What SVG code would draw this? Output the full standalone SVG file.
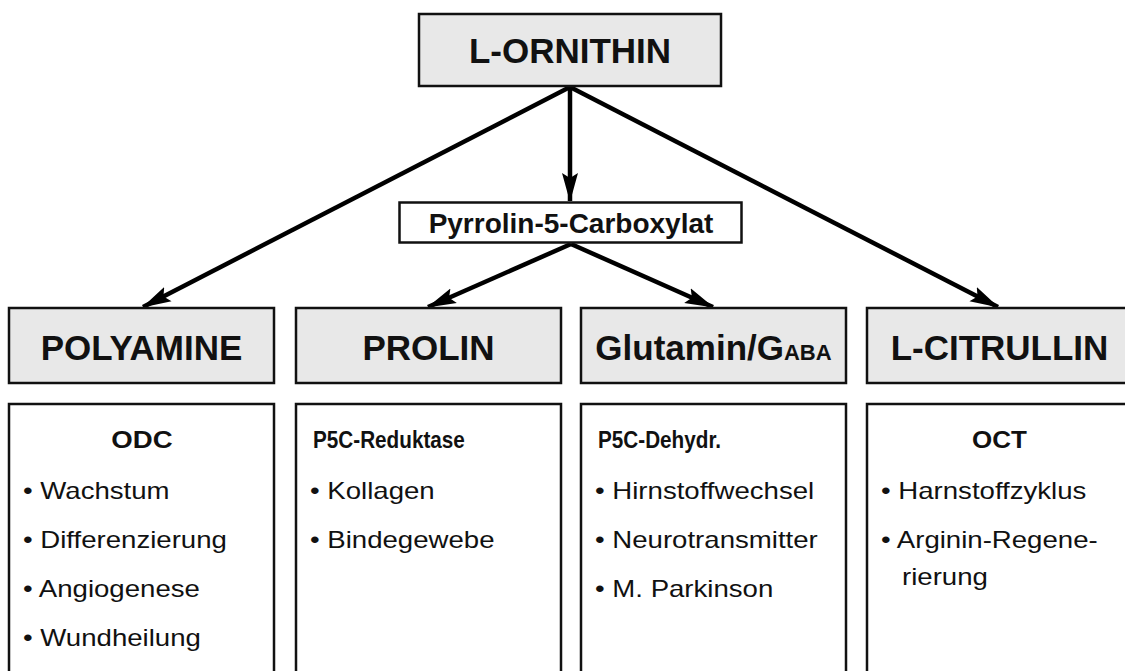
<svg xmlns="http://www.w3.org/2000/svg" width="1125" height="671" viewBox="0 0 1125 671">
<style>
.hdr{fill:#e8e8e8;stroke:#111;stroke-width:2.5}
.box{fill:#fff;stroke:#111;stroke-width:2.5}
.t{font-family:"Liberation Sans",Arial,sans-serif;fill:#111}
.big{font-size:35px;font-weight:bold;text-anchor:middle}
.mid{font-size:28px;font-weight:bold;text-anchor:middle}
.sub{font-size:23px;font-weight:bold}
.li{font-size:23px}
.con line{stroke:#000;stroke-width:4.5;marker-end:url(#ah)}
</style>
<defs>
<marker id="ah" markerUnits="userSpaceOnUse" markerWidth="30" markerHeight="20" viewBox="0 0 30 20" refX="28" refY="10" orient="auto">
<path d="M0,2 L29,10 L0,18 L5,10 Z" fill="#000"/>
</marker>
</defs>
<rect width="1125" height="671" fill="#fff"/>
<g id="connectors" class="con">
<line x1="570" y1="87" x2="143" y2="307"/>
<line x1="570" y1="87" x2="570" y2="201"/>
<line x1="570" y1="87" x2="998" y2="307"/>
<line x1="571" y1="244" x2="428" y2="307"/>
<line x1="571" y1="244" x2="713" y2="307"/>
</g>
<g id="l-ornithin">
<rect class="hdr" x="419" y="14" width="302" height="72"/>
<text class="t big" x="570" y="63">L-ORNITHIN</text>
</g>
<g id="p5c">
<rect class="box" x="399.5" y="202.5" width="342" height="40"/>
<text class="t mid" x="571" y="233">Pyrrolin-5-Carboxylat</text>
</g>
<g id="polyamine">
<rect class="hdr" x="9" y="308" width="265" height="75"/>
<text class="t big" x="141.5" y="360">POLYAMINE</text>
</g>
<g id="prolin">
<rect class="hdr" x="296" y="308" width="265" height="75"/>
<text class="t big" x="428.5" y="360">PROLIN</text>
</g>
<g id="glutamin">
<rect class="hdr" x="581" y="308" width="265" height="75"/>
<text class="t big" x="713.5" y="360" font-size="31">Glutamin/G<tspan font-size="22">ABA</tspan></text>
</g>
<g id="l-citrullin">
<rect class="hdr" x="867" y="308" width="265" height="75"/>
<text class="t big" x="999.5" y="360">L-CITRULLIN</text>
</g>
<g id="odc">
<rect class="box" x="9" y="404" width="265" height="300"/>
<text class="t sub" text-anchor="middle" transform="translate(142,448) scale(1.2,1)">ODC</text>
<text class="t li" transform="translate(23,499) scale(1.2,1)">• Wachstum</text>
<text class="t li" transform="translate(23,548) scale(1.2,1)">• Differenzierung</text>
<text class="t li" transform="translate(23,597) scale(1.2,1)">• Angiogenese</text>
<text class="t li" transform="translate(23,646) scale(1.2,1)">• Wundheilung</text>
</g>
<g id="p5c-reduktase">
<rect class="box" x="296" y="404" width="265" height="300"/>
<text class="t sub" transform="translate(313,448) scale(0.9,1)">P5C-Reduktase</text>
<text class="t li" transform="translate(310,499) scale(1.2,1)">• Kollagen</text>
<text class="t li" transform="translate(310,548) scale(1.2,1)">• Bindegewebe</text>
</g>
<g id="p5c-dehydr">
<rect class="box" x="581" y="404" width="265" height="300"/>
<text class="t sub" transform="translate(598,448) scale(0.9,1)">P5C-Dehydr.</text>
<text class="t li" transform="translate(595,499) scale(1.2,1)">• Hirnstoffwechsel</text>
<text class="t li" transform="translate(595,548) scale(1.2,1)">• Neurotransmitter</text>
<text class="t li" transform="translate(595,597) scale(1.2,1)">• M. Parkinson</text>
</g>
<g id="oct">
<rect class="box" x="867" y="404" width="265" height="300"/>
<text class="t sub" text-anchor="middle" transform="translate(999.5,448) scale(1.13,1)">OCT</text>
<text class="t li" transform="translate(881,499) scale(1.2,1)">• Harnstoffzyklus</text>
<text class="t li" transform="translate(881,548) scale(1.2,1)">• Arginin-Regene-</text>
<text class="t li" transform="translate(902,585) scale(1.2,1)">rierung</text>
</g>
</svg>
